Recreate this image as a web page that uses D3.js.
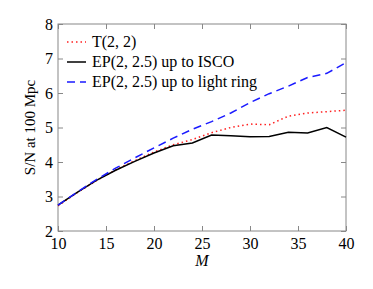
<!DOCTYPE html>
<html>
<head>
<meta charset="utf-8">
<script src="https://cdn.jsdelivr.net/npm/d3@7"></script>
<style>
  body { margin: 0; background: #fff; }
  text { font-family: "Liberation Serif", "DejaVu Serif", serif; fill: #000; }
</style>
</head>
<body>
<script>
var w = 373, h = 289;
var padL = 58, padR = 346, padT = 24, padB = 231;

var masses = [10, 12, 14, 16, 18, 20, 22, 24, 26, 28, 30, 32, 34, 36, 38, 40];
var snrT22 = [2.73, 3.11, 3.46, 3.77, 4.04, 4.29, 4.5, 4.65, 4.85, 5.0, 5.1, 5.08, 5.33, 5.42, 5.46, 5.5];
var snrIsco = [2.75, 3.12, 3.47, 3.76, 4.02, 4.26, 4.47, 4.55, 4.78, 4.76, 4.73, 4.74, 4.86, 4.84, 5.0, 4.72];
var snrRing = [2.75, 3.13, 3.49, 3.82, 4.12, 4.41, 4.69, 4.95, 5.17, 5.42, 5.72, 5.98, 6.2, 6.45, 6.57, 6.88];

var xTicks = [10, 15, 20, 25, 30, 35, 40];
var yTicks = [2, 3, 4, 5, 6, 7, 8];

var series = [
  { name: "T(2, 2)", values: snrT22, color: "#ff2020", dash: "1.5,3" },
  { name: "EP(2, 2.5) up to ISCO", values: snrIsco, color: "#000", dash: null },
  { name: "EP(2, 2.5) up to light ring", values: snrRing, color: "#1a1aff", dash: "8,5" }
];

var svg = d3.select("body").append("svg")
  .attr("width", w).attr("height", h);

var x = d3.scaleLinear().domain([10, 40]).range([padL, padR]);
var y = d3.scaleLinear().domain([2, 8]).range([padB, padT]);

var frame = "#888";

// frame
svg.append("rect")
  .attr("x", padL).attr("y", padT)
  .attr("width", padR - padL).attr("height", padB - padT)
  .attr("fill", "none").attr("stroke", frame).attr("stroke-width", 1);

// inward ticks on all four sides
function ticks(axis, pos) {
  var g = svg.append("g")
    .attr("transform", pos)
    .call(axis);
  g.select(".domain").remove();
  g.selectAll("line").attr("stroke", frame);
  g.selectAll("text").attr("font-size", 16).attr("font-family", "Liberation Serif").attr("fill", "#000");
  return g;
}

var tl = 5;
ticks(d3.axisBottom(x).tickValues(xTicks).tickSize(-tl).tickPadding(7).tickFormat(d3.format("d")), "translate(0," + padB + ")");
ticks(d3.axisTop(x).tickValues(xTicks).tickSize(-tl).tickFormat(""), "translate(0," + padT + ")");
ticks(d3.axisLeft(y).tickValues(yTicks).tickSize(-tl).tickPadding(5).tickFormat(d3.format("d")), "translate(" + padL + ",0)");
ticks(d3.axisRight(y).tickValues(yTicks).tickSize(-tl).tickFormat(""), "translate(" + padR + ",0)");

// axis titles
svg.append("text")
  .attr("x", x(25)).attr("y", 266)
  .attr("text-anchor", "middle")
  .attr("font-size", 16).attr("font-style", "italic")
  .text("M");

svg.append("text")
  .attr("transform", "translate(35," + ((padT + padB) / 2) + ") rotate(-90)")
  .attr("text-anchor", "middle")
  .attr("font-size", 15)
  .text("S/N at 100 Mpc");

// lines
var line = d3.line()
  .x(function(d, i) { return x(masses[i]); })
  .y(function(d) { return y(d); });

series.forEach(function(s) {
  svg.append("path")
    .datum(s.values)
    .attr("d", line)
    .attr("fill", "none")
    .attr("stroke", s.color)
    .attr("stroke-width", 1.5)
    .attr("stroke-dasharray", s.dash);
});

// legend
var lg = svg.append("g");
series.forEach(function(s, i) {
  var ly0 = 42 + i * 20;
  lg.append("line")
    .attr("x1", 67).attr("x2", 86)
    .attr("y1", ly0).attr("y2", ly0)
    .attr("stroke", s.color)
    .attr("stroke-width", 1.5)
    .attr("stroke-dasharray", s.dash);
  lg.append("text")
    .attr("x", 92).attr("y", ly0 + 5)
    .attr("font-size", 16)
    .text(s.name);
});
</script>
</body>
</html>
